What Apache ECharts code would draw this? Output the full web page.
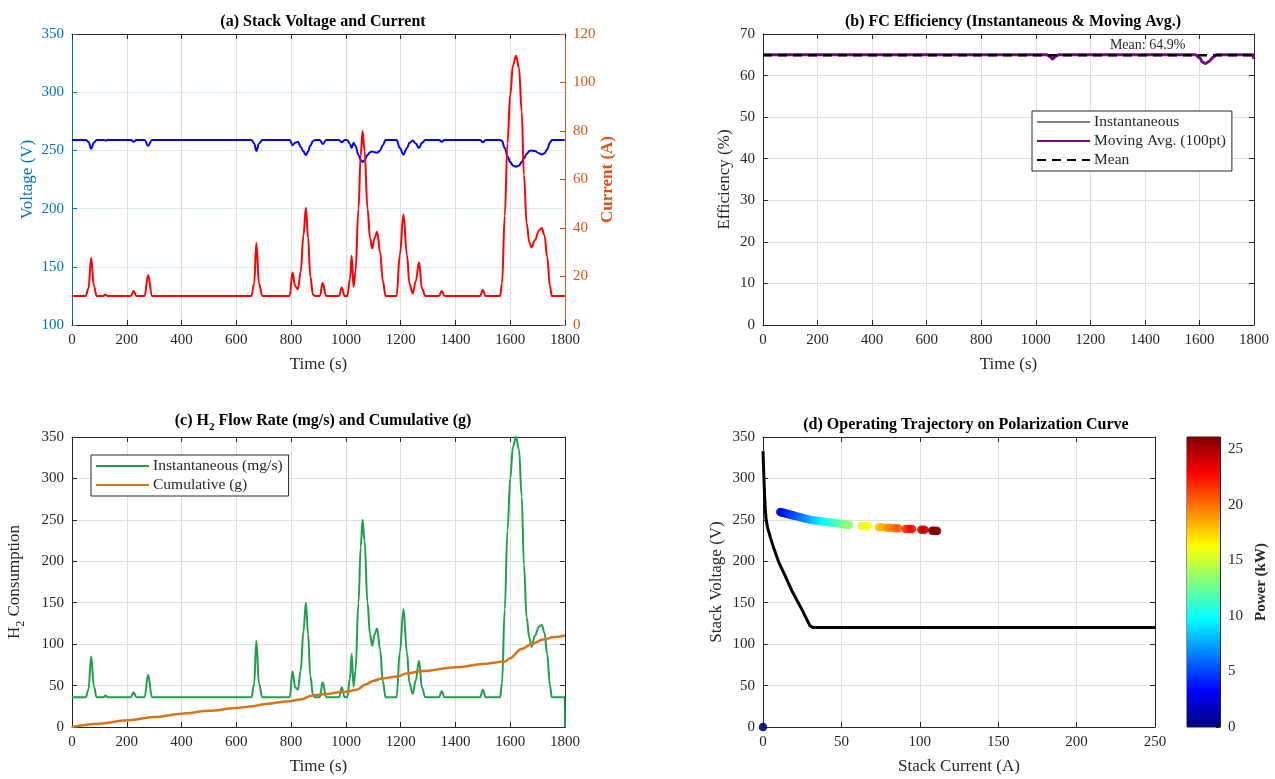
<!DOCTYPE html>
<html>
<head>
<meta charset="utf-8">
<script src="https://cdn.jsdelivr.net/npm/echarts@6/dist/echarts.min.js"></script>
<style>
  html, body { margin: 0; padding: 0; background: #fff; }
  #chart { width: 1275px; height: 779px; }
</style>
</head>
<body>
<div id="chart"></div>
<script>
// ---- data ----
// shared time base for panels (a) and (c), seconds
const time = [0, 50, 60, 70, 80, 90, 115, 122, 130, 215, 225, 235, 265, 278, 292,
  655, 665, 673, 683, 695, 795, 805, 815, 825, 835, 845, 854, 862, 870, 880, 888, 905, 915, 928,
  975, 985, 995, 1005, 1015, 1021, 1028, 1035, 1046, 1054, 1061, 1068, 1079, 1088, 1096, 1105, 1114, 1125, 1135, 1145,
  1185, 1197, 1210, 1223, 1232, 1244, 1255, 1267, 1278, 1290, 1340, 1350, 1360,
  1490, 1500, 1510, 1563, 1570, 1580, 1590, 1600, 1610, 1621, 1632, 1642, 1650, 1660, 1670, 1678,
  1690, 1705, 1715, 1725, 1735, 1745, 1752, 1799, 1800];
// stack current (A)
const stackCurrent = [12, 12, 15, 27.6, 16, 12, 12, 12.6, 12, 12, 14, 12, 12, 20.6, 12,
  12, 17, 33.8, 17, 12, 12, 21.7, 16, 14.7, 22, 37, 48.4, 36, 20, 12.5, 12, 12, 17.3, 12,
  12, 15.5, 12, 12, 19, 28.6, 15.8, 22, 48, 70, 80, 72, 48, 36, 31.6, 36, 38.5, 30, 18, 12,
  12, 29, 45.6, 29, 17, 13, 18, 25.9, 15, 12, 12, 14, 12,
  12, 14.4, 12, 12, 17, 45, 75, 95, 107, 111, 106, 88, 62, 42, 34, 32,
  35, 39, 40, 37, 28, 16, 12, 12, 12];
// stack voltage (V)
const stackVoltage = [259, 259, 257.5, 251.5, 256.5, 259, 259, 258.5, 259, 259, 257.5, 259, 259, 254, 259,
  259, 256, 249.5, 256, 259, 259, 254.5, 256.5, 257.5, 253, 249, 246, 249, 254, 258, 259, 259, 255.5, 259,
  259, 257, 259, 259, 255.5, 252, 256.5, 254, 246, 242, 240, 241.5, 246, 248.5, 249, 248.5, 248, 250, 254.5, 259,
  259, 252, 246.5, 252, 256.5, 258.5, 256, 252, 256.5, 259, 259, 257.5, 259,
  259, 257, 259, 259, 258, 252, 245, 240, 237, 236, 237, 240, 243, 247, 249.5, 250,
  249.5, 247.5, 246.5, 247.5, 251, 256.5, 259, 259, 259];
// instantaneous H2 flow (mg/s)
const h2Flow = [36, 36, 45, 85, 49, 36, 36, 38, 36, 36, 42, 36, 36, 63, 36,
  36, 52, 104, 52, 36, 36, 67, 48, 45, 68, 115, 150, 112, 62, 38, 36, 36, 54, 36,
  36, 48, 36, 36, 59, 88, 49, 68, 150, 217, 250, 225, 150, 112, 98, 112, 119, 93, 55, 36,
  36, 90, 142, 90, 53, 40, 56, 80, 47, 36, 36, 43, 36,
  36, 45, 36, 36, 53, 142, 237, 300, 338, 350, 335, 278, 196, 132, 107, 97,
  110, 121, 123, 114, 88, 50, 36, 36, 0];
// cumulative H2 (g)
const cumTime = [0, 100, 200, 300, 400, 500, 600, 660, 700, 800, 840, 870, 900, 1000, 1040,
  1070, 1100, 1130, 1190, 1220, 1280, 1400, 1500, 1580, 1600, 1640, 1680, 1720, 1760, 1800];
const h2Cumulative = [0, 4, 8, 12, 16, 19.5, 23, 25, 27.5, 31.5, 33.5, 37.5, 39, 42.5, 45,
  51, 55.5, 58.5, 61, 64.5, 67.5, 72, 76, 79, 83, 94, 100.5, 105.5, 108.5, 110.5];

// efficiency (%)
const effTime = [0, 1040, 1052, 1062, 1072, 1085, 1585, 1600, 1612, 1622, 1635, 1650, 1662, 1795, 1800];
const effInstant = [65, 65, 64.5, 64.0, 64.5, 65, 65, 64.2, 63.0, 62.8, 63.2, 64.4, 65, 65, 64.3];
const effMovingAvg = [65, 65, 64.6, 64.0, 64.6, 65, 65, 64.3, 63.2, 62.9, 63.4, 64.4, 65, 65, 64];
const effMean = 64.9;
const meanLabelTime = 1410;

// polarization curve
const polCurrent = [0, 0.5, 1, 1.5, 2, 3, 5, 7, 10, 14, 18, 25, 30, 32, 250];
const polVoltage = [333, 305, 280, 262, 250, 240, 227, 215, 199, 183, 166, 141, 122, 120, 120];

// operating points (current A, voltage V)
const trajCurrent = [0, 11, 12, 13, 14, 15, 16, 17, 18, 19, 20, 22, 24, 26, 28, 30, 32, 34, 36, 38,
  40, 42, 44, 46, 48, 50, 52, 54, 55, 63, 65, 67, 74, 76, 79, 81, 84, 86, 91, 93, 95, 101, 103,
  108, 109, 110, 111];
const trajVoltage = [0, 259.5, 259, 258.5, 258, 257.5, 257, 256.5, 256, 255.5, 255, 254, 253, 252, 251,
  250, 249.5, 249, 248.5, 248, 247.5, 247, 246.5, 246, 245.5, 245, 244.5, 244, 244, 242.5, 242.5,
  242.5, 241, 241, 240.5, 240.5, 240, 240, 239, 239, 239, 238, 238, 237, 237, 236.5, 236.5];
const powerMax = 26.1;

// ---- styling ----
const FONT = '"Liberation Serif", "Times New Roman", serif';
const AX = '#262626';
const GRIDLINE = '#dfdfdf';
const JET = ['#000080', '#0000ff', '#0080ff', '#00ffff', '#80ff80', '#ffff00', '#ff8000', '#ff0000', '#800000'];

function pairs(xs, ys) { return xs.map((x, i) => [x, ys[i]]); }
const plain = v => String(v);

function mainAxis(gridIndex, pos, min, max, interval, name, nameGap, extra) {
  const color = (extra && extra.color) || AX;
  return Object.assign({
    type: 'value', gridIndex, position: pos, min, max, interval,
    name, nameLocation: 'middle', nameGap,
    nameRotate: (pos === 'left' || pos === 'right') ? 90 : 0,
    nameTextStyle: { color, fontFamily: FONT, fontSize: 17, fontWeight: (extra && extra.bold) ? 'bold' : 'normal' },
    axisLine: { show: true, onZero: false, lineStyle: { color, width: 1 } },
    axisTick: { show: true, inside: true, length: 5, lineStyle: { color } },
    axisLabel: { color, fontFamily: FONT, fontSize: 15, margin: 8, formatter: plain },
    splitLine: { show: true, lineStyle: { color: (extra && extra.split) || GRIDLINE, width: 1 } }
  }, extra ? extra.more : {});
}

function frameAxis(gridIndex, pos, min, max, interval) {
  return {
    type: 'value', gridIndex, position: pos, min, max, interval,
    axisLine: { show: true, onZero: false, lineStyle: { color: AX, width: 1 } },
    axisTick: { show: true, inside: true, length: 5, lineStyle: { color: AX } },
    axisLabel: { show: false },
    splitLine: { show: false }
  };
}

function titleText(text, cx, top) {
  return {
    text, left: cx, top, textAlign: 'center',
    textStyle: {
      fontFamily: FONT, fontSize: 16, fontWeight: 'bold', color: '#000',
      rich: { sub: { fontFamily: FONT, fontSize: 11, fontWeight: 'bold', color: '#000', padding: [13, 0, 0, 0], verticalAlign: 'bottom' } }
    }
  };
}

function legendBox(left, top, names) {
  return {
    left, top, orient: 'vertical', data: names, selectedMode: false,
    itemWidth: 53, itemHeight: 12, itemGap: 3,
    padding: [3, 6, 3, 4],
    borderColor: AX, borderWidth: 1, borderRadius: 0, backgroundColor: '#fff',
    itemStyle: { opacity: 0 },
    textStyle: { fontFamily: FONT, fontSize: 15.5, color: AX, padding: [0, 0, 0, -1] }
  };
}

const chart = echarts.init(document.getElementById('chart'), null, { renderer: 'canvas' });

const option = {
  animation: false,
  backgroundColor: '#fff',
  title: [
    titleText('(a) Stack Voltage and Current', 318, 9),
    titleText('(b) FC Efficiency (Instantaneous & Moving Avg.)', 1008, 9),
    titleText('(c) H{sub|2} Flow Rate (mg/s) and Cumulative (g)', 318, 404),
    titleText('(d) Operating Trajectory on Polarization Curve', 961, 412)
  ],
  grid: [
    { left: 72, top: 34, width: 493, height: 291 },
    { left: 763, top: 34, width: 491, height: 291 },
    { left: 72, top: 437, width: 493, height: 290 },
    { left: 763, top: 437, width: 392, height: 290 },
    { left: 1187, top: 437, width: 33, height: 290, show: true, borderColor: AX, borderWidth: 1 }
  ],
  xAxis: [
    mainAxis(0, 'bottom', 0, 1800, 200, 'Time (s)', 31),
    frameAxis(0, 'top', 0, 1800, 200),
    mainAxis(1, 'bottom', 0, 1800, 200, 'Time (s)', 31),
    frameAxis(1, 'top', 0, 1800, 200),
    mainAxis(2, 'bottom', 0, 1800, 200, 'Time (s)', 31),
    frameAxis(2, 'top', 0, 1800, 200),
    mainAxis(3, 'bottom', 0, 250, 50, 'Stack Current (A)', 31),
    frameAxis(3, 'top', 0, 250, 50),
    { type: 'category', gridIndex: 4, data: [''], show: false }
  ],
  yAxis: [
    mainAxis(0, 'left', 100, 350, 50, 'Voltage (V)', 36, { color: '#0072bd', split: '#d9eaf5' }),
    mainAxis(0, 'right', 0, 120, 20, 'Current (A)', 32, {
      color: '#d95319', bold: true, more: { splitLine: { show: false } }
    }),
    mainAxis(1, 'left', 0, 70, 10, 'Efficiency (%)', 30),
    frameAxis(1, 'right', 0, 70, 10),
    mainAxis(2, 'left', 0, 350, 50, 'H{sub|2} Consumption', 45),
    frameAxis(2, 'right', 0, 350, 50),
    mainAxis(3, 'left', 0, 350, 50, 'Stack Voltage (V)', 38),
    frameAxis(3, 'right', 0, 350, 50),
    {
      type: 'value', gridIndex: 4, position: 'right', min: 0, max: powerMax, interval: 5,
      name: 'Power (kW)', nameLocation: 'middle', nameGap: 34, nameRotate: 90,
      nameTextStyle: { color: AX, fontFamily: FONT, fontSize: 15, fontWeight: 'bold' },
      axisLine: { show: true, lineStyle: { color: AX } },
      axisTick: { show: true, inside: true, length: 4, lineStyle: { color: AX } },
      axisLabel: { color: AX, fontFamily: FONT, fontSize: 15, margin: 8, formatter: plain },
      splitLine: { show: false }
    }
  ],
  legend: [
    legendBox(1032, 111, ['Instantaneous', 'Moving Avg. (100pt)', 'Mean']),
    legendBox(91, 455, ['Instantaneous (mg/s)', 'Cumulative (g)'])
  ],
  visualMap: [{
    show: false, type: 'continuous', seriesIndex: 9, dimension: 2,
    min: 0, max: powerMax, inRange: { color: JET }
  }],
  series: [
    // (a)
    {
      name: 'Voltage', type: 'line', xAxisIndex: 0, yAxisIndex: 0, data: pairs(time, stackVoltage),
      smooth: 0.4, smoothMonotone: 'x', symbol: 'none', lineStyle: { color: '#0000ff', width: 2 }
    },
    {
      name: 'Current', type: 'line', xAxisIndex: 0, yAxisIndex: 1, data: pairs(time, stackCurrent),
      smooth: 0.4, smoothMonotone: 'x', symbol: 'none', lineStyle: { color: '#ff0000', width: 2 }
    },
    // (b)
    {
      name: 'Instantaneous', type: 'line', xAxisIndex: 2, yAxisIndex: 2, data: pairs(effTime, effInstant),
      smooth: 0.4, smoothMonotone: 'x', symbol: 'none', itemStyle: { color: '#808080' },
      lineStyle: { color: '#808080', width: 1 }
    },
    {
      name: 'Moving Avg. (100pt)', type: 'line', xAxisIndex: 2, yAxisIndex: 2, data: pairs(effTime, effMovingAvg),
      smooth: 0.4, smoothMonotone: 'x', symbol: 'none', itemStyle: { color: '#800080' },
      lineStyle: { color: '#800080', width: 3 }
    },
    {
      name: 'Mean', type: 'line', xAxisIndex: 2, yAxisIndex: 2, data: [[0, effMean], [1800, effMean]],
      symbol: 'none', itemStyle: { color: '#000' },
      lineStyle: { color: '#000', width: 2.5, type: [9, 6] },
      markPoint: {
        symbol: 'circle', symbolSize: 1, itemStyle: { color: 'rgba(0,0,0,0)' },
        label: {
          show: true, position: 'top', distance: 2, formatter: 'Mean: ' + effMean.toFixed(1) + '%',
          fontFamily: FONT, fontSize: 14, color: AX
        },
        data: [{ coord: [meanLabelTime, effMean] }]
      }
    },
    // (c)
    {
      name: 'Instantaneous (mg/s)', type: 'line', xAxisIndex: 4, yAxisIndex: 4, data: pairs(time, h2Flow),
      smooth: 0.4, smoothMonotone: 'x', symbol: 'none', itemStyle: { color: '#1f9e4b' },
      lineStyle: { color: '#1f9e4b', width: 2 }
    },
    {
      name: 'Cumulative (g)', type: 'line', xAxisIndex: 4, yAxisIndex: 4, data: pairs(cumTime, h2Cumulative),
      smooth: 0.3, smoothMonotone: 'x', symbol: 'none', itemStyle: { color: '#d9731a' },
      lineStyle: { color: '#d9731a', width: 2.5 }
    },
    // (d)
    {
      name: 'Polarization', type: 'line', xAxisIndex: 6, yAxisIndex: 6, data: pairs(polCurrent, polVoltage),
      symbol: 'none', lineStyle: { color: '#000', width: 3 }
    },
    // colorbar
    {
      name: 'colorbar', type: 'bar', xAxisIndex: 8, yAxisIndex: 8, data: [powerMax], barWidth: '100%',
      silent: true,
      itemStyle: {
        color: new echarts.graphic.LinearGradient(0, 1, 0, 0,
          JET.map((c, i) => ({ offset: i / (JET.length - 1), color: c })))
      }
    },
    {
      name: 'Trajectory', type: 'scatter', xAxisIndex: 6, yAxisIndex: 6,
      data: trajCurrent.map((c, i) => [c, trajVoltage[i], c * trajVoltage[i] / 1000]),
      symbolSize: 8.5, itemStyle: { opacity: 0.9 }
    }
  ]
};

// rich subscript for the H2 axis name
option.yAxis[4].nameTextStyle.rich = {
  sub: { fontFamily: FONT, fontSize: 12, color: AX, padding: [13, 0, 0, 0], verticalAlign: 'bottom' }
};

chart.setOption(option);
</script>
</body>
</html>
